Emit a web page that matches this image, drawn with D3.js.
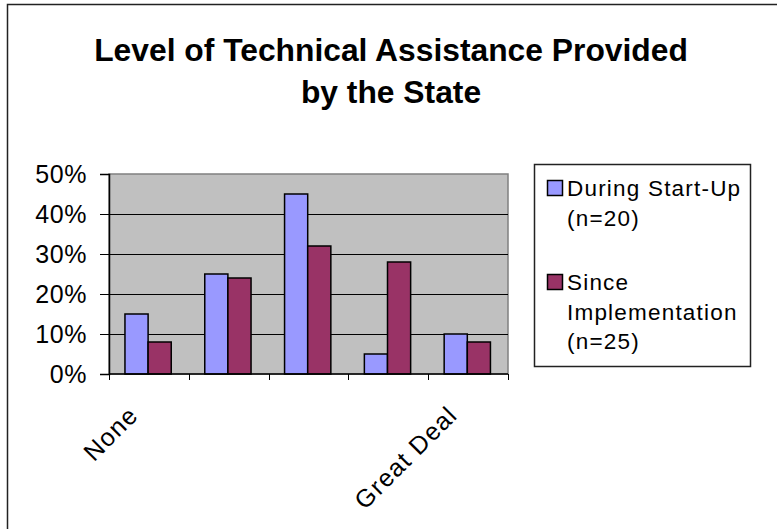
<!DOCTYPE html>
<html>
<head>
<meta charset="utf-8">
<script src="https://cdn.jsdelivr.net/npm/d3@7"></script>
<style>
  html, body { margin: 0; padding: 0; background: #fff; }
  svg { display: block; font-family: "Liberation Sans", Arial, sans-serif; }
</style>
</head>
<body>
<svg id="chart" width="777" height="529"></svg>
<script>
const categories = ["None", "", "", "", "Great Deal"];
const seriesNames = ["During Start-Up (n=20)", "Since Implementation (n=25)"];
const duringStartUp = [15, 25, 45, 5, 10];
const sinceImplementation = [8, 24, 32, 28, 8];
const yTicks = [0, 10, 20, 30, 40, 50];
const titleLines = ["Level of Technical Assistance Provided", "by the State"];
const legendLines = [["During Start-Up", "(n=20)"], ["Since", "Implementation", "(n=25)"]];
const colors = ["#9999FF", "#993366"];

const svg = d3.select("#chart");

// outer chart frame
svg.append("rect").attr("x", 7.5).attr("y", 4.5).attr("width", 800).attr("height", 560)
  .attr("fill", "#fff").attr("stroke", "#222").attr("stroke-width", 1.5);

// title
const title = svg.append("g");
titleLines.forEach((t, i) => {
  title.append("text")
    .attr("x", 0).attr("y", 0)
    .attr("text-anchor", "middle")
    .attr("font-size", 31).attr("font-weight", "bold")
    .attr("transform", `translate(391,${61 + i * 42})`)
    .text(t);
});
// condense title to match width
const tl = title.select("text").node().getComputedTextLength();
const sx = 594 / tl;
title.selectAll("text").attr("transform", (d, i) => `translate(391,${61 + i * 42}) scale(${sx},1)`);

const plot = { left: 109, right: 508, top: 174, bottom: 374 };

const x0 = d3.scaleBand().domain(d3.range(categories.length)).range([plot.left, plot.right]).padding(0);
const x1 = d3.scaleBand().domain([0, 1]).range([x0.bandwidth() * 0.2, x0.bandwidth() * 0.78]).padding(0);
const y = d3.scaleLinear().domain([0, 50]).range([plot.bottom, plot.top]);

// plot background
svg.append("rect").attr("x", plot.left).attr("y", plot.top)
  .attr("width", plot.right - plot.left).attr("height", plot.bottom - plot.top)
  .attr("fill", "#C0C0C0").attr("stroke", "#808080").attr("stroke-width", 1.5);

// gridlines
svg.append("g").selectAll("line").data(yTicks.filter(d => d > 0 && d < 50)).join("line")
  .attr("x1", plot.left).attr("x2", plot.right)
  .attr("y1", d => Math.round(y(d)) + 0.5).attr("y2", d => Math.round(y(d)) + 0.5)
  .attr("stroke", "#000").attr("stroke-width", 1);

// bars
const data = categories.map((c, i) => [duringStartUp[i], sinceImplementation[i]]);
const groups = svg.append("g").selectAll("g").data(data).join("g")
  .attr("transform", (d, i) => `translate(${x0(i)},0)`);
groups.selectAll("rect").data(d => d.map((v, s) => ({ v, s }))).join("rect")
  .attr("x", d => x1(d.s)).attr("width", x1.bandwidth())
  .attr("y", d => y(d.v)).attr("height", d => y(0) - y(d.v))
  .attr("fill", d => colors[d.s]).attr("stroke", "#000").attr("stroke-width", 1.5);

// y axis
const yAxis = svg.append("g").attr("transform", `translate(${plot.left},0)`)
  .call(d3.axisLeft(y).tickValues(yTicks).tickFormat(d => d + "%").tickSize(9).tickPadding(13));
yAxis.select(".domain").attr("stroke", "#000").attr("stroke-width", 1.5);
yAxis.selectAll(".tick line").attr("stroke", "#000").attr("stroke-width", 1);
yAxis.selectAll("text").attr("font-size", 25).attr("fill", "#000")
  .attr("font-family", "'Liberation Sans', Arial, sans-serif").attr("letter-spacing", 0.6);

// x axis
const xEdge = d3.scaleLinear().domain([0, categories.length]).range([plot.left, plot.right]);
const xAxis = svg.append("g").attr("transform", `translate(0,${plot.bottom})`);
xAxis.append("line").attr("x1", plot.left).attr("x2", plot.right).attr("y1", 0).attr("y2", 0)
  .attr("stroke", "#000").attr("stroke-width", 1.5);
xAxis.selectAll("line.tk").data(d3.range(categories.length + 1)).join("line").attr("class", "tk")
  .attr("x1", d => Math.round(xEdge(d)) + 0.5).attr("x2", d => Math.round(xEdge(d)) + 0.5)
  .attr("y1", 0).attr("y2", 6).attr("stroke", "#000").attr("stroke-width", 1);
xAxis.selectAll("text").data(categories).join("text")
  .attr("transform", (d, i) => `translate(${x0(i) + x0.bandwidth() / 2 - 22},${30}) rotate(-45)`)
  .attr("text-anchor", "end").attr("dy", "0.72em")
  .attr("font-size", 25).attr("letter-spacing", 1.2)
  .text(d => d);

// legend
const legend = svg.append("g");
legend.append("rect").attr("x", 534.5).attr("y", 164.5).attr("width", 216).attr("height", 202)
  .attr("fill", "#fff").attr("stroke", "#222").attr("stroke-width", 1.5);
const legendBase = [196, 290];
legendLines.forEach((lines, s) => {
  legend.append("rect").attr("x", 547.5).attr("y", legendBase[s] - 15.5).attr("width", 15).attr("height", 15)
    .attr("fill", colors[s]).attr("stroke", "#000").attr("stroke-width", 1.5);
  lines.forEach((t, j) => {
    legend.append("text").attr("x", 567).attr("y", legendBase[s] + j * 29.5)
      .attr("font-size", 22.5).attr("letter-spacing", 1.2).text(t);
  });
});
</script>
</body>
</html>
